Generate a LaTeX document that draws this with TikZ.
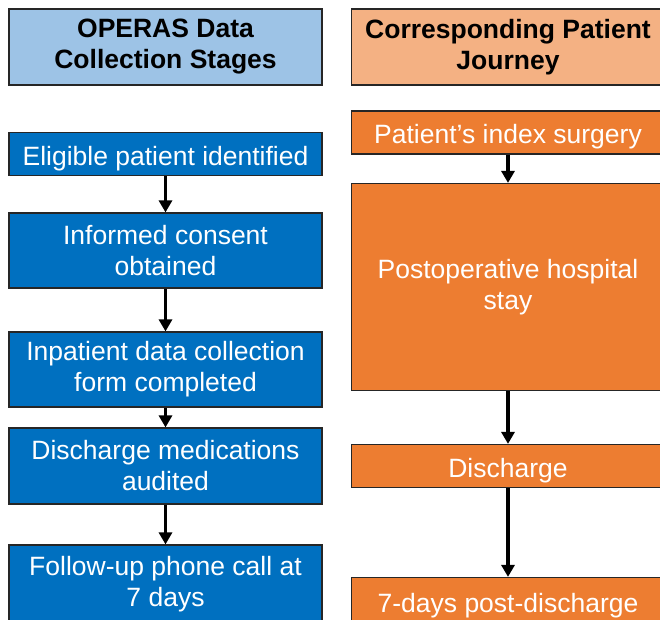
\documentclass[tikz,border=0pt]{standalone}
\usepackage{fontspec}
\setmainfont{Liberation Sans}
\usetikzlibrary{arrows.meta}
\definecolor{hdrblue}{RGB}{157,195,230}
\definecolor{stageblue}{RGB}{0,112,192}
\definecolor{hdrorange}{RGB}{244,177,131}
\definecolor{journeyorange}{RGB}{237,125,49}
\definecolor{edgegray}{RGB}{38,38,38}
\begin{document}
\begin{tikzpicture}[x=1pt,y=-1pt,
    box/.style={draw=edgegray,line width=1.2pt,minimum width=313pt,inner sep=0pt,
      align=center,font=\fontsize{26.5}{31}\selectfont},
    oneline/.style={text height=22pt,text depth=0pt,minimum height=43pt},
    header/.style={box,font=\fontsize{26.5}{31}\selectfont\bfseries,text=black,minimum height=76pt},
    stage/.style={box,fill=stageblue,text=white},
    journey/.style={box,fill=journeyorange,text=white},
    flow/.style={-{Triangle[width=13pt,length=12pt]},line width=3.5pt}]
  \clip (0,0) rectangle (660,619);
  % data collection stages
  \node[header,fill=hdrblue] (stageHead) at (165.5,47) {OPERAS Data\\Collection Stages};
  \node[stage,oneline] (eligible) at (165.5,154) {Eligible patient identified};
  \node[stage,minimum height=75pt] (consent) at (165.5,250.5) {Informed consent\\obtained};
  \node[stage,minimum height=75pt] (inpatient) at (165.5,369.5) {Inpatient data collection\\form completed};
  \node[stage,minimum height=76pt] (meds) at (165.5,466) {Discharge medications\\audited};
  \node[stage,minimum height=79pt] (phone) at (165.5,584.5) {Follow-up phone call at\\7 days};
  % patient journey
  \node[header,fill=hdrorange] (journeyHead) at (508,47) {Corresponding Patient\\Journey};
  \node[journey,oneline] (surgery) at (508,132.5) {Patient’s index surgery};
  \node[journey,minimum height=207pt] (stay) at (508,287) {Postoperative hospital\\stay};
  \node[journey,oneline] (discharge) at (508,466) {Discharge};
  \node[journey,oneline,minimum height=47pt] (postdis) at (508,601) {7-days post-discharge};
  \begin{scope}[flow]
    \draw (eligible) to (consent);
    \draw (consent) to (inpatient);
    \draw (inpatient) to (meds);
    \draw (meds) to (phone);
    \draw (surgery) to (stay);
    \draw (stay) to (discharge);
    \draw (discharge) to (postdis);
  \end{scope}
\end{tikzpicture}
\end{document}
